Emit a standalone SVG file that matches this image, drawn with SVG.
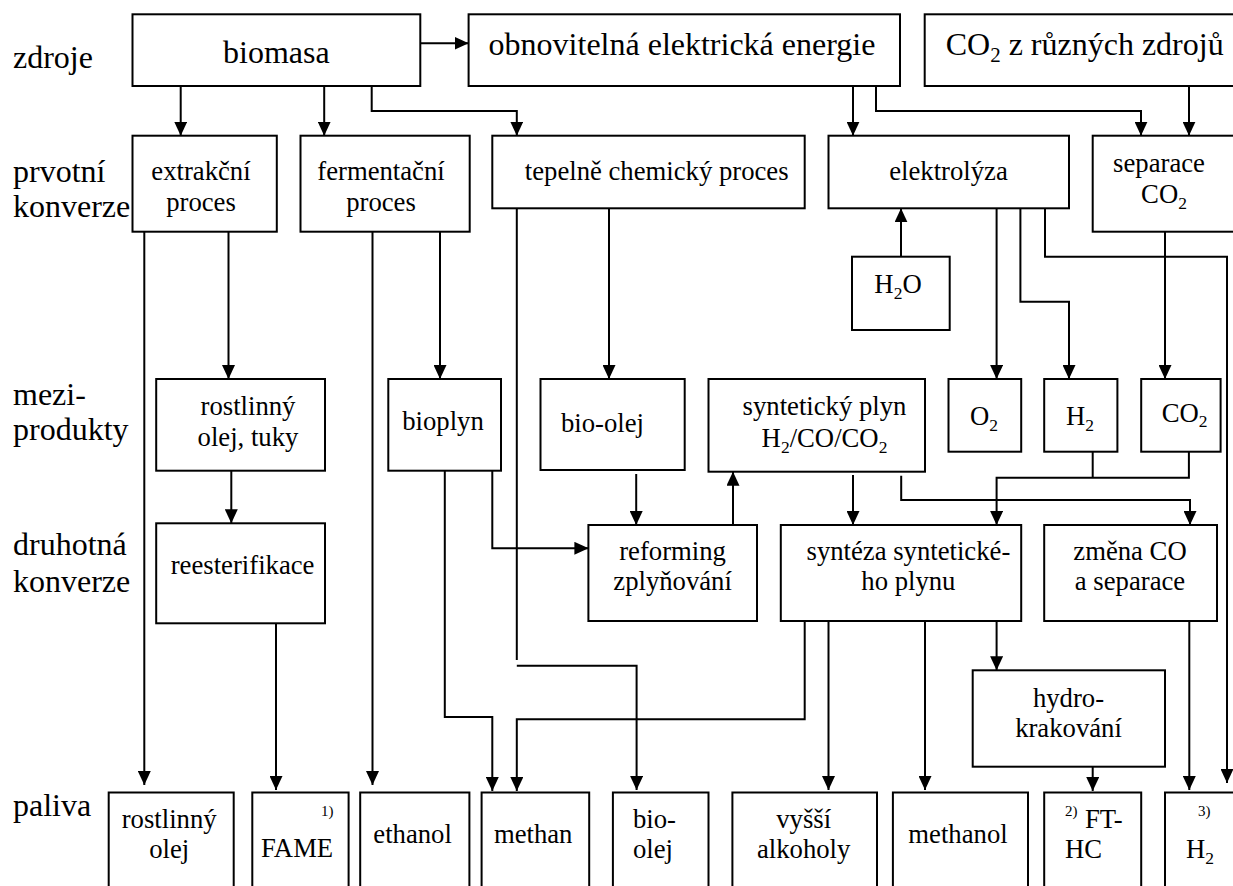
<svg xmlns="http://www.w3.org/2000/svg" width="1233" height="886" viewBox="0 0 1233 886">
<defs>
<style>
.b{fill:#fff;stroke:#000;stroke-width:2}
text{font-family:"Liberation Serif","Times New Roman",serif;fill:#000}
.t{font-size:26.7px;text-anchor:middle}
.ts{font-size:26.7px;text-anchor:start}
.tl{font-size:32px;text-anchor:middle}
.lab{font-size:32px}
.s{font-size:15px}
.c path{fill:none;stroke:#000;stroke-width:2}
.c path.a{marker-end:url(#ah)}
</style>
<marker id="ah" markerWidth="14" markerHeight="13" refX="14" refY="6.5" orient="auto" markerUnits="userSpaceOnUse"><path d="M0,0 L14,6.5 L0,13 z" fill="#000"/></marker>
</defs>
<rect x="0" y="0" width="1233" height="886" fill="#fff"/>

<g id="row-labels">
<text class="lab" x="13" y="68">zdroje</text>
<text class="lab" x="13" y="182">prvotní</text>
<text class="lab" x="13" y="217">konverze</text>
<text class="lab" x="13" y="405">mezi-</text>
<text class="lab" x="13" y="440">produkty</text>
<text class="lab" x="13" y="555">druhotná</text>
<text class="lab" x="13" y="592">konverze</text>
<text class="lab" x="13" y="816">paliva</text>
</g>

<g class="c" id="connectors">
<path class="a" d="M420.3,43.3 H468.6"/>
<path class="a" d="M180.7,86 V135.7"/>
<path class="a" d="M324.2,86 V135.7"/>
<path class="a" d="M371.7,86 V111 H516.8 V135.7"/>
<path class="a" d="M853,86 V135.7"/>
<path class="a" d="M876,86 V111 H1141 V135.7"/>
<path class="a" d="M1189,86 V135.7"/>
<path class="a" d="M144.3,231.7 V785"/>
<path class="a" d="M228.5,231.7 V379"/>
<path class="a" d="M372.5,231.7 V785"/>
<path class="a" d="M440,231.7 V379"/>
<path d="M516.8,208.3 V660"/>
<path class="a" d="M516.8,665.7 H636.6 V790"/>
<path class="a" d="M609,208.3 V379"/>
<path class="a" d="M901,256.7 V208.3"/>
<path class="a" d="M996.6,208.3 V379"/>
<path class="a" d="M1020.4,208.3 V301.7 H1069 V379"/>
<path class="a" d="M1045,208.3 V256.7 H1227 V783"/>
<path class="a" d="M1165,231.7 V379"/>
<path class="a" d="M231.3,470.7 V523.3"/>
<path class="a" d="M444.8,470.7 V717 H492.3 V791"/>
<path class="a" d="M492.3,470.7 V548.3 H588.4"/>
<path class="a" d="M636.2,474 V525"/>
<path class="a" d="M733,525 V471.7"/>
<path class="a" d="M853,475 V525"/>
<path class="a" d="M901.2,475.7 V500 H1190 V525"/>
<path d="M1092.7,451.7 V477.7"/>
<path class="a" d="M1188.9,451.7 V477.7 H996.6 V525"/>
<path class="a" d="M276,623.3 V790"/>
<path class="a" d="M804.7,621 V719.3 H516.8 V791"/>
<path class="a" d="M828.5,621 V790"/>
<path class="a" d="M925,621 V790"/>
<path class="a" d="M996.6,621 V670.3"/>
<path class="a" d="M1092.7,766.7 V791"/>
<path class="a" d="M1189.3,621 V790"/>
</g>

<g id="n-biomasa"><rect class="b" x="132.5" y="14.3" width="287.8" height="71.7"/><text class="tl" x="276.4" y="63.3">biomasa</text></g>
<g id="n-obnovitelna"><rect class="b" x="468.6" y="14.3" width="431.4" height="71.7"/><text class="tl" x="682" y="55">obnovitelná elektrická energie</text></g>
<g id="n-co2-zdroje"><rect class="b" x="924.7" y="14.3" width="320" height="71.7"/><text class="lab" x="945.7" y="55">CO<tspan font-size="21" dy="7">2</tspan><tspan dy="-7"> z různých zdrojů</tspan></text></g>

<g id="n-extrakcni"><rect class="b" x="132.5" y="135.7" width="144.3" height="96"/><text class="t" x="201" y="180">extrakční</text><text class="t" x="201" y="210.7">proces</text></g>
<g id="n-fermentacni"><rect class="b" x="300.5" y="135.7" width="169.2" height="96"/><text class="t" x="381" y="180">fermentační</text><text class="t" x="381" y="210.7">proces</text></g>
<g id="n-tepelne"><rect class="b" x="492.3" y="135.7" width="312.4" height="72.6"/><text class="t" x="656.7" y="180">tepelně chemický proces</text></g>
<g id="n-elektrolyza"><rect class="b" x="828.5" y="135.7" width="240.5" height="72.6"/><text class="t" x="948.5" y="180">elektrolýza</text></g>
<g id="n-separace"><rect class="b" x="1092.7" y="135.7" width="150" height="96"/><text class="t" x="1159" y="171.7">separace</text><text class="t" x="1164" y="203.3">CO<tspan font-size="17.5" dy="6">2</tspan></text></g>
<g id="n-h2o"><rect class="b" x="852" y="256.7" width="97.7" height="73.3"/><text class="t" x="898" y="293.3">H<tspan font-size="17.5" dy="6">2</tspan><tspan dy="-6">O</tspan></text></g>

<g id="n-rostlinny-olej-tuky"><rect class="b" x="156.2" y="379" width="168.8" height="91.7"/><text class="t" x="248" y="415">rostlinný</text><text class="t" x="248" y="446">olej, tuky</text></g>
<g id="n-bioplyn"><rect class="b" x="388.3" y="379" width="112.7" height="91.7"/><text class="t" x="443" y="430">bioplyn</text></g>
<g id="n-bio-olej"><rect class="b" x="540.5" y="379" width="144.2" height="91"/><text class="t" x="602.5" y="431.7">bio-olej</text></g>
<g id="n-synteticky-plyn"><rect class="b" x="708.5" y="379" width="216.5" height="92.7"/><text class="t" x="824.5" y="415">syntetický plyn</text><text class="t" x="824.5" y="446.7">H<tspan font-size="17.5" dy="6">2</tspan><tspan dy="-6">/CO/CO</tspan><tspan font-size="17.5" dy="6">2</tspan></text></g>
<g id="n-o2"><rect class="b" x="948.5" y="379" width="72.7" height="72.7"/><text class="t" x="984" y="425">O<tspan font-size="17.5" dy="6">2</tspan></text></g>
<g id="n-h2"><rect class="b" x="1044.2" y="379" width="73.2" height="72.7"/><text class="t" x="1080" y="425">H<tspan font-size="17.5" dy="6">2</tspan></text></g>
<g id="n-co2"><rect class="b" x="1141.2" y="379" width="79.4" height="72.7"/><text class="t" x="1184.7" y="422">CO<tspan font-size="17.5" dy="5">2</tspan></text></g>

<g id="n-reesterifikace"><rect class="b" x="156.2" y="523.3" width="168.8" height="100"/><text class="t" x="242.6" y="574">reesterifikace</text></g>
<g id="n-reforming"><rect class="b" x="588.4" y="525" width="168.6" height="96"/><text class="t" x="672.6" y="560">reforming</text><text class="t" x="672.6" y="590">zplyňování</text></g>
<g id="n-synteza"><rect class="b" x="780.8" y="525" width="240.4" height="96"/><text class="t" x="908.4" y="560">syntéza syntetické-</text><text class="t" x="908.4" y="590">ho plynu</text></g>
<g id="n-zmena-co"><rect class="b" x="1044.2" y="525" width="172.8" height="96"/><text class="t" x="1130" y="560">změna CO</text><text class="t" x="1130" y="590">a separace</text></g>
<g id="n-hydrokrakovani"><rect class="b" x="972.7" y="670.3" width="192.3" height="96.4"/><text class="t" x="1068.5" y="706.7">hydro-</text><text class="t" x="1068.5" y="736.7">krakování</text></g>

<g id="f-rostlinny-olej"><rect class="b" x="108.7" y="792.5" width="125" height="110"/><text class="t" x="169.2" y="828.3">rostlinný</text><text class="t" x="169.2" y="858.3">olej</text></g>
<g id="f-fame"><rect class="b" x="252.3" y="792.5" width="96.3" height="110"/><text class="s" x="321" y="816">1)</text><text class="t" x="297.1" y="856.7">FAME</text></g>
<g id="f-ethanol"><rect class="b" x="360.2" y="792.5" width="109.2" height="110"/><text class="t" x="412.6" y="843.3">ethanol</text></g>
<g id="f-methan"><rect class="b" x="481.6" y="792.5" width="107.6" height="110"/><text class="t" x="533.2" y="843.3">methan</text></g>
<g id="f-bio-olej"><rect class="b" x="612.9" y="792.5" width="95.6" height="110"/><text class="t" x="654.5" y="828.3">bio-</text><text class="t" x="653" y="858.3">olej</text></g>
<g id="f-vyssi-alkoholy"><rect class="b" x="732.4" y="792.5" width="144.6" height="110"/><text class="t" x="803.7" y="828.3">vyšší</text><text class="t" x="803.7" y="858.3">alkoholy</text></g>
<g id="f-methanol"><rect class="b" x="892.9" y="792.5" width="135.1" height="110"/><text class="t" x="958" y="843.3">methanol</text></g>
<g id="f-ft-hc"><rect class="b" x="1044.2" y="792.5" width="97" height="110"/><text class="s" x="1065" y="816">2)</text><text class="ts" x="1085" y="828.3">FT-</text><text class="ts" x="1065" y="858.3">HC</text></g>
<g id="f-h2"><rect class="b" x="1165" y="792.5" width="80" height="110"/><text class="s" x="1198" y="816">3)</text><text class="ts" x="1186" y="858.3">H<tspan font-size="17.5" dy="6">2</tspan></text></g>
</svg>
